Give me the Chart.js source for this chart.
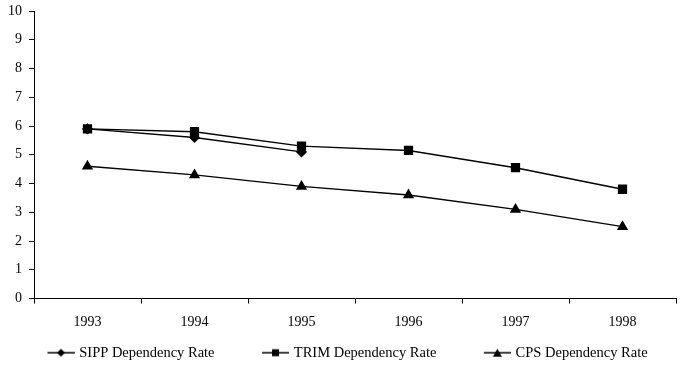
<!DOCTYPE html>
<html>
<head>
<meta charset="utf-8">
<script src="https://cdn.jsdelivr.net/npm/chart.js@4.4.1/dist/chart.umd.min.js"></script>
<style>
  html, body { margin: 0; padding: 0; background: #fff; }
  #wrap { width: 690px; height: 374px; }
</style>
</head>
<body>
<div id="wrap"><canvas id="chart"></canvas></div>
<script>
// DATA
const years = ['1993', '1994', '1995', '1996', '1997', '1998'];
const sippRate = [5.9, 5.6, 5.1, null, null, null];
const trimRate = [5.9, 5.8, 5.3, 5.15, 4.55, 3.8];
const cpsRate = [4.6, 4.3, 3.9, 3.6, 3.1, 2.5];
const yTicks = [0, 1, 2, 3, 4, 5, 6, 7, 8, 9, 10];

Chart.defaults.font.family = "'Liberation Serif', 'Times New Roman', serif";
Chart.defaults.font.size = 14;
Chart.defaults.color = '#000';

// legend swatch: short line with the marker, transparent on the left so the items spread out
const ICON_W = 67, LINE_W = 27;
function legendIcon(style) {
    const c = document.createElement('canvas');
    c.width = ICON_W; c.height = 12;
    const g = c.getContext('2d');
    const x0 = ICON_W - LINE_W, cx = x0 + LINE_W / 2;
    g.strokeStyle = '#000';
    g.fillStyle = '#000';
    g.lineWidth = 1.5;
    g.beginPath(); g.moveTo(x0, 6); g.lineTo(ICON_W, 6); g.stroke();
    g.beginPath();
    if (style === 'rectRot') {
        g.moveTo(cx, 2); g.lineTo(cx + 4, 6); g.lineTo(cx, 10); g.lineTo(cx - 4, 6);
    } else if (style === 'rect') {
        g.rect(cx - 3.5, 2.5, 7, 7);
    } else {
        g.moveTo(cx, 2); g.lineTo(cx + 4.5, 10); g.lineTo(cx - 4.5, 10);
    }
    g.closePath(); g.fill();
    return c;
}

const series = [
    { label: 'SIPP Dependency Rate', data: sippRate, pointStyle: 'rectRot', pointRadius: 4.5 },
    { label: 'TRIM Dependency Rate', data: trimRate, pointStyle: 'rect', pointRadius: 5.5 },
    { label: 'CPS Dependency Rate', data: cpsRate, pointStyle: 'triangle', pointRadius: 5 }
];

new Chart(document.getElementById('chart').getContext('2d'), {
    type: 'line',
    data: {
        labels: years,
        datasets: series.map(s => ({
            label: s.label,
            data: s.data,
            pointStyle: s.pointStyle,
            pointRadius: s.pointRadius,
            borderColor: '#000',
            backgroundColor: '#000',
            borderWidth: 1.5,
            tension: 0,
            spanGaps: false
        }))
    },
    options: {
        responsive: true,
        maintainAspectRatio: false,
        animation: false,
        layout: { padding: { left: 0, right: 14, top: 11, bottom: 4 } },
        plugins: {
            legend: {
                position: 'bottom',
                align: 'start',
                labels: {
                    usePointStyle: true,
                    pointStyleWidth: ICON_W - 5,
                    padding: 10,
                    color: '#000',
                    font: { size: 14.5 },
                    generateLabels: chart => chart.data.datasets.map((ds, i) => ({
                        text: ds.label,
                        pointStyle: legendIcon(ds.pointStyle),
                        fillStyle: '#000',
                        strokeStyle: '#000',
                        lineWidth: 0,
                        hidden: false,
                        datasetIndex: i
                    }))
                }
            },
            tooltip: { enabled: false }
        },
        scales: {
            x: {
                offset: true,
                afterFit: axis => { axis.height = 37; },
                grid: {
                    offset: true,
                    drawOnChartArea: false,
                    drawTicks: true,
                    tickLength: 5,
                    color: '#000'
                },
                border: { display: true, color: '#000', width: 1 },
                ticks: { padding: 10, color: '#000', maxRotation: 0 }
            },
            y: {
                min: 0,
                max: 10,
                afterFit: axis => { axis.width = 34; axis.paddingTop = 0; },
                afterBuildTicks: axis => { axis.ticks = yTicks.map(v => ({ value: v })); },
                grid: {
                    drawOnChartArea: false,
                    drawTicks: true,
                    tickLength: 5,
                    color: '#000'
                },
                border: { display: true, color: '#000', width: 1 },
                ticks: { padding: 7, color: '#000' }
            }
        }
    }
});
</script>
</body>
</html>
